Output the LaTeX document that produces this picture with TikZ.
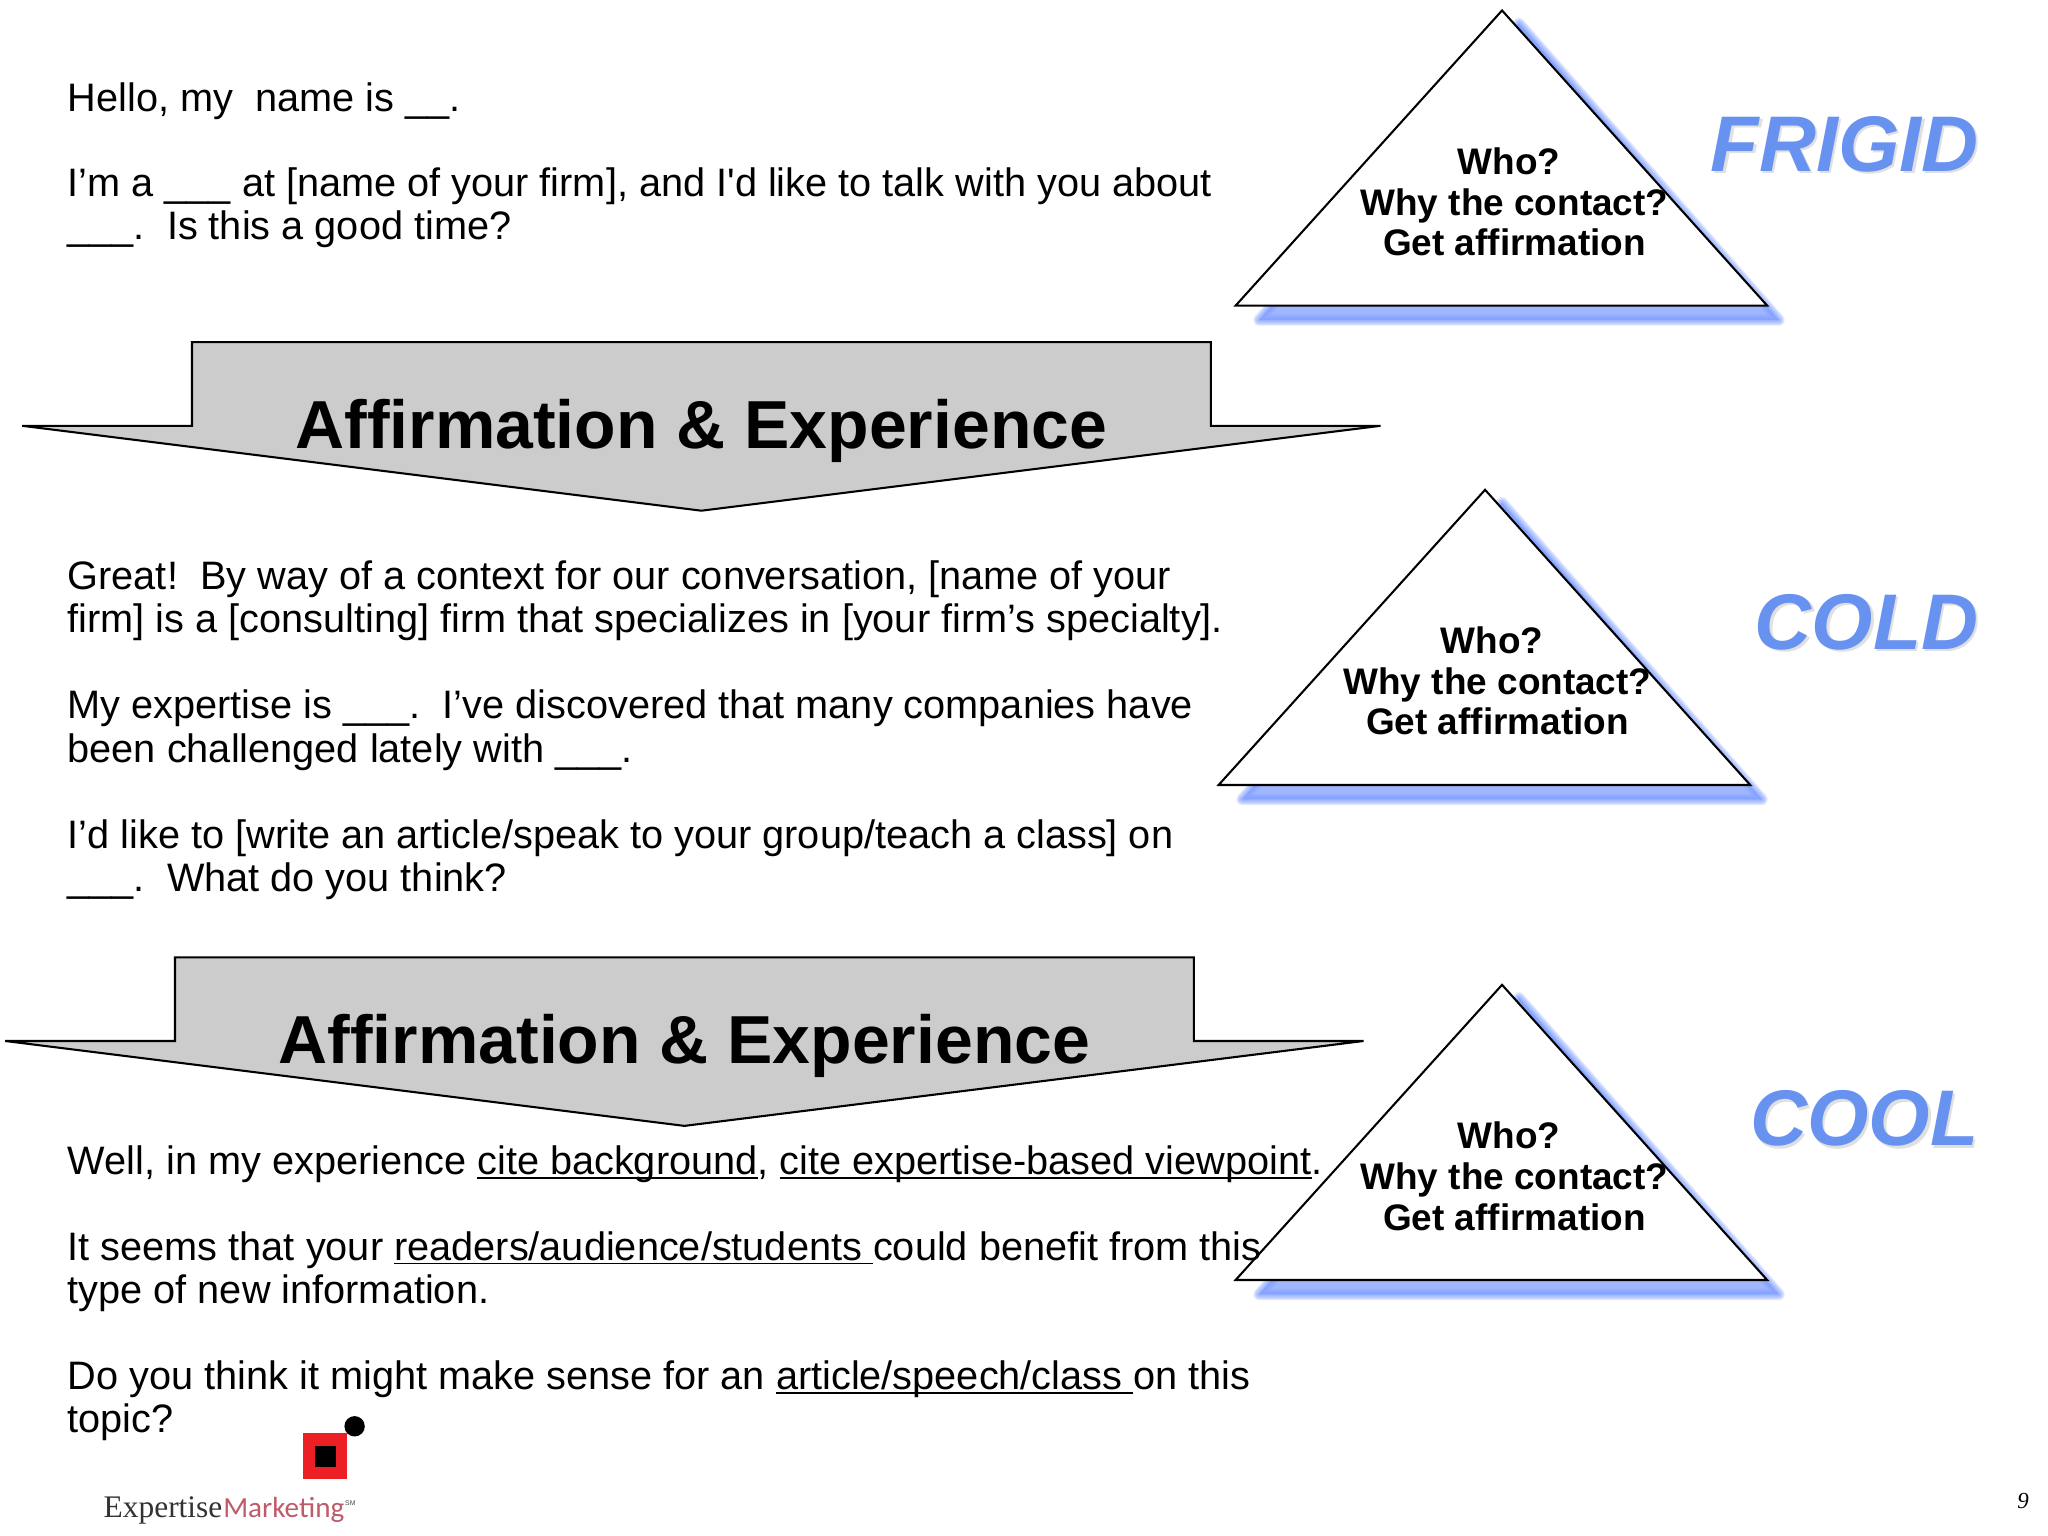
\documentclass[tikz,border=0pt]{standalone}
\usepackage{fontspec}
\setmainfont{Liberation Sans}
\newfontfamily\logoserif{Liberation Serif}
\newfontfamily\logosans{Carlito}
\usetikzlibrary{calc}
\definecolor{shadowblue}{RGB}{122,154,255}
\definecolor{titleblue}{RGB}{104,146,240}
\definecolor{arrowgray}{RGB}{204,204,204}
\definecolor{logored}{RGB}{236,32,36}
\definecolor{logorose}{RGB}{190,90,105}
\tikzset{
	bodytext/.style={anchor=north west, align=left, inner sep=0pt, execute at begin node=\strut, font=\fontsize{17.3}{18.8}\selectfont},
	tritext/.style={align=center, inner sep=0pt, font=\fontsize{16.1}{17.7}\selectfont\bfseries},
	arrowtext/.style={anchor=base, inner sep=0pt, font=\fontsize{29.6}{36}\selectfont\bfseries},
	bigword/.style={anchor=base east, inner sep=0pt, font=\fontsize{34.4}{40}\selectfont\bfseries\itshape}
}
\frenchspacing
\def\uword#1{\setbox0=\hbox{#1}\rlap{\rule[-1.7pt]{\wd0}{0.6pt}}\box0}
\def\contacttri(#1,#2)#3{
	\begin{scope}[shift={(#1,#2)}]
		\foreach \w in {5,4,3,2,1}
			\draw[shadowblue, fill=shadowblue, opacity=0.22, line width=\w pt, line join=round] (13,10) -- (212,237) -- (-186,237) -- cycle;
		\draw[fill=white, line width=0.9pt] (0,0) -- (203,226) -- (-204,226) -- cycle;
		\node[tritext] (#3) at (9.5,146.5) {Who?\hspace*{4.6pt}\\Why the contact?\\Get affirmation};
	\end{scope}
}
\def\affarrow(#1,#2)#3{
	\begin{scope}[shift={(#1,#2)}]
		\draw[fill=arrowgray, line width=0.9pt] (0,0) -- (780,0) -- (780,64) -- (910,64) -- (390,129) -- (-130,64) -- (0,64) -- cycle;
		\node[arrowtext] (#3) at (390,81) {Affirmation \& Experience};
	\end{scope}
}
\def\bigword(#1,#2)#3#4{
	\node[bigword, text=black!40, opacity=0.3] at ($(#1,#2)+(2,2)$) {#4};
	\node[bigword, text=titleblue] (#3) at (#1,#2) {#4};
}
\begin{document}
\begin{tikzpicture}[x=0.02cm, y=-0.02cm]
	\useasboundingbox (0,0) rectangle (1568,1176);

	\contacttri(1150,8){whofrigid}
	\contacttri(1137,375){whocold}
	\contacttri(1150,754){whocool}

	\bigword(1515,131){frigid}{FRIGID}
	\bigword(1515,497){cold}{COLD}
	\bigword(1515,877){cool}{COOL}

	\affarrow(147,262){affone}
	\affarrow(134,733){afftwo}

	% frigid script
	\node[bodytext] (hello) at (51.5,62) {Hello, my\ \ name is \_\_.};
	\node[bodytext] (firm) at (51.5,128) {I’m a \_\_\_ at [name of your firm], and I\textquotesingle d like to talk with you about\\\_\_\_.\ \ Is this a good time?};

	% cold script
	\node[bodytext] (great) at (51.5,429) {Great!\ \ By way of a context for our conversation, [name of your\\firm] is a [consulting] firm that specializes in [your firm’s specialty].};
	\node[bodytext] (expertise) at (51.5,528) {My expertise is \_\_\_.\ \ I’ve discovered that many companies have\\been challenged lately with \_\_\_.};
	\node[bodytext] (speak) at (51.5,627) {I’d like to [write an article/speak to your group/teach a class] on\\\_\_\_.\ \ What do you think?};

	% cool script
	\node[bodytext] (well) at (51.5,876) {Well, in my experience \uword{cite background}, \uword{cite expertise-based viewpoint}.};
	\node[bodytext] (seems) at (51.5,942.7) {It seems that your \uword{readers/audience/students\ }could benefit from this\\type of new information.};
	\node[bodytext] (sense) at (51.5,1041.7) {Do you think it might make sense for an \uword{article/speech/class\ }on this\\topic?};

	% logo
	\draw[fill=logored, draw=none] (232,1097) rectangle (266,1132);
	\fill[black] (241.5,1107) rectangle (257,1123);
	\fill[black] (271.5,1092) circle (7.8);
	\node[anchor=base west, inner sep=0pt, font=\logoserif\fontsize{13.7}{16}\selectfont, text=black!80] (logoname) at (79,1162) {Expertise};
	\node[anchor=base west, inner sep=0pt, font=\logosans\fontsize{12.7}{16}\selectfont, text=logorose] (logomark) at (logoname.base east) {Marketing};
	\node[anchor=base west, inner sep=0pt, font=\fontsize{3}{4}\selectfont, text=black!70] (logosm) at ($(logomark.base east)+(0,-9)$) {SM};

	\node[inner sep=0pt, font=\logoserif\itshape\fontsize{10}{12}\selectfont] (pagenum) at (1549,1149) {9};
\end{tikzpicture}
\end{document}
